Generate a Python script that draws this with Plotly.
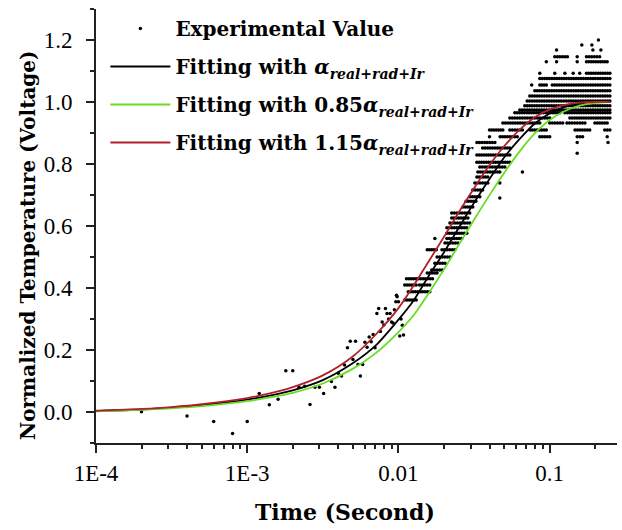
import numpy as np
import plotly.graph_objects as go

# ---------------- data ----------------
# fitted curves (time in s, normalized temperature)
curve_t = [1e-4, 2.0e-4, 3.16e-4, 5.01e-4, 1.0e-3, 1.41e-3, 2.0e-3, 3.16e-3, 5.01e-3,
           7.08e-3, 0.01, 0.0126, 0.0158, 0.02, 0.0251, 0.0316, 0.0398, 0.0501, 0.0631,
           0.0794, 0.1, 0.126, 0.158, 0.2, 0.251]
fit_black = [0.003, 0.008, 0.014, 0.022, 0.040, 0.053, 0.070, 0.103, 0.158, 0.215, 0.298,
             0.360, 0.438, 0.515, 0.595, 0.675, 0.750, 0.822, 0.880, 0.930, 0.963, 0.984,
             0.995, 1.000, 1.000]
fit_green = [0.002, 0.007, 0.012, 0.019, 0.035, 0.047, 0.062, 0.092, 0.140, 0.190, 0.258,
             0.312, 0.382, 0.460, 0.540, 0.620, 0.698, 0.772, 0.840, 0.898, 0.942, 0.971,
             0.988, 0.997, 1.000]
fit_red = [0.004, 0.010, 0.016, 0.025, 0.045, 0.060, 0.080, 0.118, 0.180, 0.250, 0.335,
           0.408, 0.485, 0.565, 0.645, 0.722, 0.795, 0.858, 0.910, 0.950, 0.976, 0.991,
           0.998, 1.000, 1.000]

# sparse experimental points (early times)
exp_t = [2e-4, 4e-4, 6e-4, 8e-4, 1.0e-3, 1.2e-3, 1.4e-3, 1.6e-3, 1.8e-3, 2.0e-3, 2.2e-3,
         2.4e-3, 2.6e-3, 2.8e-3, 3.0e-3, 3.2e-3, 3.6e-3, 3.8e-3, 4.0e-3, 4.2e-3, 4.4e-3,
         4.6e-3, 4.8e-3, 5.0e-3, 5.2e-3, 5.4e-3, 5.6e-3, 5.8e-3, 6.0e-3, 6.2e-3, 6.4e-3,
         6.6e-3, 6.8e-3, 7.0e-3, 7.2e-3, 7.4e-3, 7.6e-3, 7.8e-3, 8.0e-3, 8.2e-3, 8.4e-3,
         8.6e-3, 8.8e-3, 9.0e-3, 9.2e-3, 9.4e-3, 9.6e-3, 9.7e-3, 9.8e-3, 1.0e-2, 1.02e-2,
         1.04e-2, 1.06e-2, 1.08e-2]
exp_v = [0.001, -0.013, -0.031, -0.069, -0.031, 0.060, 0.023, 0.041, 0.133, 0.133, 0.080,
         0.083, 0.024, 0.080, 0.080, 0.060, 0.098, 0.080, 0.125, 0.116, 0.152,
         0.207, 0.228, 0.169, 0.228, 0.153, 0.116, 0.153, 0.225, 0.209, 0.242,
         0.227, 0.250, 0.207, 0.318, 0.334, 0.260, 0.290, 0.281, 0.334, 0.318,
         0.300, 0.318, 0.290, 0.287, 0.330, 0.356, 0.377, 0.372, 0.356, 0.245,
         0.300, 0.280, 0.248]

# quantized rows of experimental points: (level, t_start, t_end)
exp_rows = [
    (0.361, 0.0110, 0.0131), (0.388, 0.0116, 0.0161), (0.410, 0.0110, 0.0131),
    (0.410, 0.0138, 0.0161), (0.430, 0.0113, 0.0168), (0.448, 0.0155, 0.0180),
    (0.458, 0.0166, 0.0195), (0.480, 0.0174, 0.0203), (0.500, 0.0180, 0.0219),
    (0.523, 0.0155, 0.0178), (0.523, 0.0194, 0.0236), (0.545, 0.0203, 0.0247),
    (0.560, 0.0174, 0.0174), (0.560, 0.0209, 0.0262), (0.577, 0.0209, 0.0283),
    (0.594, 0.0209, 0.0283), (0.610, 0.0219, 0.0296), (0.626, 0.0225, 0.0288),
    (0.642, 0.0225, 0.0296), (0.661, 0.0267, 0.0310), (0.680, 0.0280, 0.0325),
    (0.690, 0.0468, 0.0468), (0.694, 0.0296, 0.0345), (0.716, 0.0310, 0.0360),
    (0.739, 0.0320, 0.0390), (0.739, 0.0468, 0.0468), (0.758, 0.0330, 0.0390),
    (0.774, 0.0335, 0.0468), (0.774, 0.0660, 0.0660), (0.790, 0.0345, 0.0505),
    (0.806, 0.0330, 0.0545), (0.829, 0.0330, 0.0545), (0.835, 0.152, 0.152),
    (0.852, 0.0360, 0.0545), (0.869, 0.0330, 0.0434), (0.869, 0.152, 0.152),
    (0.869, 0.243, 0.243),
    (0.888, 0.040, 0.040), (0.888, 0.047, 0.061), (0.888, 0.086, 0.100),
    (0.888, 0.152, 0.165), (0.888, 0.240, 0.240),
    (0.910, 0.040, 0.049), (0.910, 0.0545, 0.066), (0.910, 0.074, 0.095),
    (0.910, 0.147, 0.184), (0.910, 0.231, 0.250),
    (0.932, 0.049, 0.086), (0.932, 0.100, 0.122), (0.932, 0.130, 0.171),
    (0.932, 0.199, 0.240),
    (0.948, 0.0545, 0.100), (0.948, 0.136, 0.250),
    (0.965, 0.0588, 0.117), (0.965, 0.126, 0.250),
    (0.974, 0.0634, 0.250), (0.988, 0.0684, 0.250), (1.003, 0.0710, 0.250),
    (1.019, 0.0738, 0.250), (1.036, 0.0797, 0.250),
    (1.055, 0.0760, 0.0760), (1.055, 0.086, 0.095), (1.055, 0.104, 0.250),
    (1.076, 0.086, 0.250),
    (1.093, 0.086, 0.086), (1.093, 0.108, 0.108), (1.093, 0.126, 0.126),
    (1.093, 0.143, 0.143), (1.093, 0.158, 0.158), (1.093, 0.175, 0.250),
    (1.130, 0.095, 0.095), (1.130, 0.111, 0.111), (1.130, 0.152, 0.152),
    (1.130, 0.175, 0.240),
    (1.146, 0.108, 0.131), (1.146, 0.152, 0.152), (1.146, 0.175, 0.214),
    (1.168, 0.111, 0.111), (1.168, 0.193, 0.193), (1.168, 0.218, 0.218),
    (1.184, 0.163, 0.163), (1.184, 0.190, 0.190),
    (1.200, 0.210, 0.210),
]

x_tickvals = [1e-4, 1e-3, 1e-2, 1e-1]
x_ticktext = ["1E-4", "1E-3", "0.01", "0.1"]
x_minor = [m * 10.0 ** e for e in (-4, -3, -2, -1) for m in range(2, 10) if m * 10.0 ** e < 0.28]

legend_names = [
    "Experimental Value",
    "Fitting with <i>α</i><sub><i>real+rad+Ir</i></sub>",
    "Fitting with 0.85<i>α</i><sub><i>real+rad+Ir</i></sub>",
    "Fitting with 1.15<i>α</i><sub><i>real+rad+Ir</i></sub>",
]

# ---------------- build point cloud ----------------
pts_t = list(exp_t)
pts_v = list(exp_v)
for lev, t0, t1 in exp_rows:
    n = max(1, int(round((np.log10(t1) - np.log10(t0)) / 0.016)) + 1)
    for tt in np.geomspace(t0, t1, n):
        pts_t.append(float(tt))
        pts_v.append(lev)

fig = go.Figure()
fig.add_trace(go.Scatter(x=pts_t, y=pts_v, mode="markers", name=legend_names[0],
                         legendgroup="g0",
                         marker=dict(size=3.5, color="black", line=dict(width=0))))
fig.add_trace(go.Scatter(x=curve_t, y=fit_black, mode="lines", name=legend_names[1],
                         legendgroup="g1",
                         line=dict(color="black", width=1.8, shape="spline", smoothing=0.8)))
fig.add_trace(go.Scatter(x=curve_t, y=fit_green, mode="lines", name=legend_names[2],
                         legendgroup="g2",
                         line=dict(color="#66dd22", width=1.8, shape="spline", smoothing=0.8)))
fig.add_trace(go.Scatter(x=curve_t, y=fit_red, mode="lines", name=legend_names[3],
                         legendgroup="g3",
                         line=dict(color="#b0202c", width=1.8, shape="spline", smoothing=0.8)))

axis_common = dict(showline=True, linecolor="#222", linewidth=1.6, ticks="outside",
                   ticklen=8, tickwidth=1.5, tickcolor="#222", showgrid=False,
                   zeroline=False, mirror=False,
                   tickfont=dict(family="Liberation Serif", size=23, color="black"))

fig.update_xaxes(type="log", range=[-4, -0.555], tickmode="array", tickvals=x_tickvals,
                 ticktext=x_ticktext, ticklabelstandoff=1,
                 minor=dict(ticks="outside", ticklen=4, tickwidth=1.5, tickcolor="#222",
                            tickmode="array", tickvals=x_minor, showgrid=False),
                 **axis_common)
fig.update_yaxes(range=[-0.1, 1.3], tick0=0, dtick=0.2, tickformat=".1f",
                 ticklabelstandoff=9,
                 minor=dict(ticks="outside", ticklen=4, tickwidth=1.5, tickcolor="#222",
                            dtick=0.1, tick0=0, showgrid=False),
                 **axis_common)

fig.update_layout(
    width=622, height=530,
    margin=dict(l=96, r=5, t=9, b=87),
    paper_bgcolor="white", plot_bgcolor="white",
    showlegend=True,
    legend=dict(x=0.018, y=1.0, xanchor="left", yanchor="top", bgcolor="rgba(0,0,0,0)",
                itemwidth=60, tracegroupgap=9, traceorder="grouped",
                font=dict(family="DejaVu Serif", size=20, color="black", weight="bold")),
    annotations=[
        dict(text="Time (Second)", xref="paper", yref="paper", x=0.478, y=-0.159,
             xanchor="center", yanchor="middle", showarrow=False,
             font=dict(family="DejaVu Serif", size=22, color="black", weight="bold")),
        dict(text="Normalized Temperature (Voltage)", xref="paper", yref="paper",
             x=-0.1305, y=0.456, xanchor="center", yanchor="middle", showarrow=False,
             textangle=-90,
             font=dict(family="DejaVu Serif", size=20, color="black", weight="bold")),
    ],
)

fig.write_html("out.html", config={"displayModeBar": False},
               post_script="document.body.style.margin='0px';")
